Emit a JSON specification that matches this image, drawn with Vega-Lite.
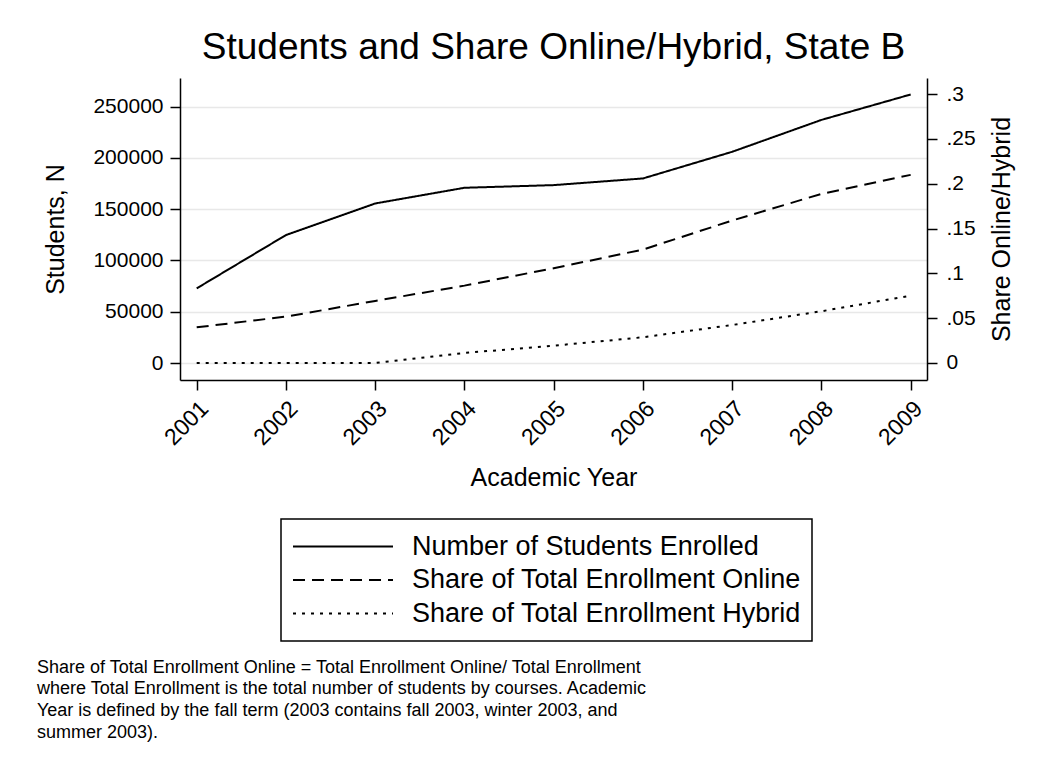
{
  "$schema": "https://vega.github.io/schema/vega-lite/v6.json",
  "background": "white",
  "padding": {"left": 36, "top": 29, "right": 5, "bottom": 5},
  "title": {
    "text": [
      "Share of Total Enrollment Online = Total Enrollment Online/ Total Enrollment",
      "where Total Enrollment is the total number of students by courses. Academic",
      "Year is defined by the fall term (2003 contains fall 2003, winter 2003, and",
      "summer 2003)."
    ],
    "orient": "bottom",
    "anchor": "start",
    "frame": "bounds",
    "dx": -7,
    "fontSize": 18,
    "lineHeight": 21.7,
    "fontWeight": "normal",
    "font": "Liberation Sans",
    "color": "black",
    "baseline": "top",
    "offset": 17
  },
  "vconcat": [
    {
      "title": {
        "text": "Students and Share Online/Hybrid, State B",
        "fontSize": 37,
        "font": "Liberation Sans",
        "fontWeight": "normal",
        "color": "black",
        "anchor": "middle",
        "frame": "group",
        "baseline": "alphabetic",
        "offset": -18
      },
      "width": 747,
      "height": 302,
      "data": {
        "values": [
          {"year": 2001, "series": "Number of Students Enrolled", "value": 72800},
          {"year": 2002, "series": "Number of Students Enrolled", "value": 124800},
          {"year": 2003, "series": "Number of Students Enrolled", "value": 155600},
          {"year": 2004, "series": "Number of Students Enrolled", "value": 170900},
          {"year": 2005, "series": "Number of Students Enrolled", "value": 173500},
          {"year": 2006, "series": "Number of Students Enrolled", "value": 180000},
          {"year": 2007, "series": "Number of Students Enrolled", "value": 206000},
          {"year": 2008, "series": "Number of Students Enrolled", "value": 237100},
          {"year": 2009, "series": "Number of Students Enrolled", "value": 261900},
          {"year": 2001, "series": "Share of Total Enrollment Online", "value": 0.0398},
          {"year": 2002, "series": "Share of Total Enrollment Online", "value": 0.0517},
          {"year": 2003, "series": "Share of Total Enrollment Online", "value": 0.0692},
          {"year": 2004, "series": "Share of Total Enrollment Online", "value": 0.0863},
          {"year": 2005, "series": "Share of Total Enrollment Online", "value": 0.1057},
          {"year": 2006, "series": "Share of Total Enrollment Online", "value": 0.1265},
          {"year": 2007, "series": "Share of Total Enrollment Online", "value": 0.1589},
          {"year": 2008, "series": "Share of Total Enrollment Online", "value": 0.1886},
          {"year": 2009, "series": "Share of Total Enrollment Online", "value": 0.2098},
          {"year": 2001, "series": "Share of Total Enrollment Hybrid", "value": 0},
          {"year": 2002, "series": "Share of Total Enrollment Hybrid", "value": 0},
          {"year": 2003, "series": "Share of Total Enrollment Hybrid", "value": 0},
          {"year": 2004, "series": "Share of Total Enrollment Hybrid", "value": 0.0112},
          {"year": 2005, "series": "Share of Total Enrollment Hybrid", "value": 0.0193},
          {"year": 2006, "series": "Share of Total Enrollment Hybrid", "value": 0.0287},
          {"year": 2007, "series": "Share of Total Enrollment Hybrid", "value": 0.0424},
          {"year": 2008, "series": "Share of Total Enrollment Hybrid", "value": 0.0577},
          {"year": 2009, "series": "Share of Total Enrollment Hybrid", "value": 0.0751}
        ]
      },
      "encoding": {
        "x": {
          "field": "year",
          "type": "quantitative",
          "scale": {"domain": [2000.813, 2009.183], "nice": false, "zero": false},
          "axis": {
            "title": "Academic Year",
            "values": [2001, 2002, 2003, 2004, 2005, 2006, 2007, 2008, 2009],
            "format": "d",
            "labelAngle": -45,
            "labelFontSize": 23,
            "grid": false,
            "titlePadding": 16
          }
        },
        "strokeDash": {
          "field": "series",
          "type": "nominal",
          "scale": {
            "domain": ["Number of Students Enrolled", "Share of Total Enrollment Online", "Share of Total Enrollment Hybrid"],
            "range": [[1, 0], [12, 7], [3, 6]]
          },
          "legend": {
            "title": null,
            "orient": "none",
            "legendX": 101,
            "legendY": 441,
            "direction": "vertical",
            "symbolType": "stroke",
            "symbolSize": 10000,
            "symbolStrokeWidth": 2,
            "symbolStrokeColor": "black",
            "clipHeight": 33,
            "rowPadding": 0.5,
            "labelOffset": 18,
            "labelFontSize": 27,
            "labelFont": "Liberation Sans",
            "labelColor": "black",
            "labelLimit": 800,
            "padding": 11,
            "strokeColor": "black"
          }
        }
      },
      "layer": [
        {
          "transform": [{"filter": "datum.series == 'Number of Students Enrolled'"}],
          "mark": {"type": "line", "color": "black", "strokeWidth": 2},
          "encoding": {
            "y": {
              "field": "value",
              "type": "quantitative",
              "scale": {"domain": [-16569, 277973], "nice": false, "zero": false},
              "axis": {
                "orient": "left",
                "title": "Students, N",
                "values": [0, 50000, 100000, 150000, 200000, 250000],
                "format": "d",
                "grid": true,
                "titlePadding": 24
              }
            }
          }
        },
        {
          "transform": [{"filter": "datum.series != 'Number of Students Enrolled'"}],
          "mark": {"type": "line", "color": "black", "strokeWidth": 2},
          "encoding": {
            "y": {
              "field": "value",
              "type": "quantitative",
              "scale": {"domain": [-0.01896, 0.31785], "nice": false, "zero": false},
              "axis": {
                "orient": "right",
                "title": "Share Online/Hybrid",
                "values": [0, 0.05, 0.1, 0.15, 0.2, 0.25, 0.3],
                "labelExpr": "datum.value == 0 ? '0' : replace(format(datum.value, '.2~f'), '0.', '.')",
                "grid": false,
                "labelPadding": 9,
                "titleAngle": -90,
                "titleBaseline": "top",
                "titlePadding": 14
              }
            }
          }
        }
      ],
      "resolve": {"scale": {"y": "independent", "strokeDash": "shared"}}
    }
  ],
  "config": {
    "font": "Liberation Sans",
    "view": {"stroke": null},
    "axis": {
      "domainColor": "black",
      "domainWidth": 1.5,
      "tickColor": "black",
      "tickWidth": 1.5,
      "tickSize": 10,
      "labelFontSize": 21,
      "labelFont": "Liberation Sans",
      "labelColor": "black",
      "labelPadding": 7,
      "titleFontSize": 25,
      "titleFont": "Liberation Sans",
      "titleFontWeight": "normal",
      "titleColor": "black",
      "gridColor": "#e8e8e8",
      "gridWidth": 1.5,
      "labelOverlap": false
    },
    "legend": {
      "strokeWidth": 1.5
    }
  }
}
